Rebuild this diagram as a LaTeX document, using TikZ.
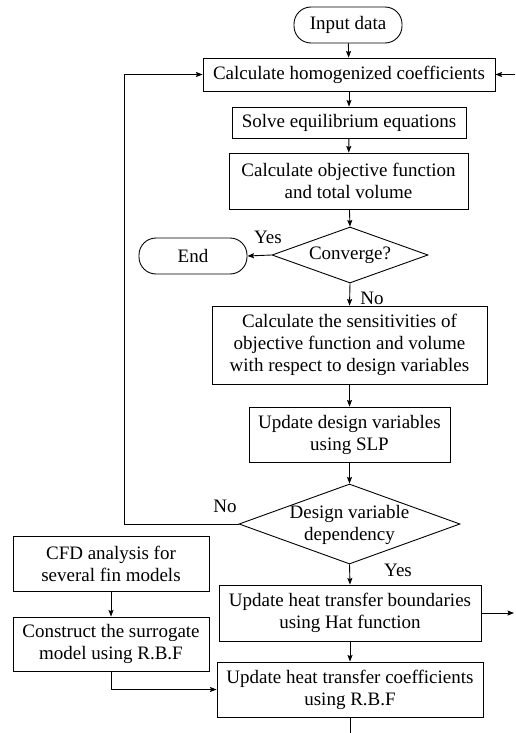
\documentclass[tikz,border=0pt]{standalone}
\usepackage{fontspec}
\setmainfont{Liberation Serif}
\usetikzlibrary{arrows.meta,shapes.geometric}

\begin{document}
\begin{tikzpicture}[x=1pt,y=-1pt,
  every node/.style={font=\fontsize{19}{22}\selectfont},
  line/.style={line width=0.9pt},
  arr/.style={line width=0.9pt,-{Stealth[length=6.5pt,width=5pt,inset=1pt]}},
  box/.style={draw,line width=0.9pt,rectangle,align=center,inner sep=0pt},
  term/.style={draw,line width=0.9pt,rectangle,rounded corners=17pt,inner sep=0pt},
  decision/.style={draw,line width=0.9pt,diamond,inner sep=0pt},
  lbl/.style={inner sep=0pt}]

\useasboundingbox (0,0) rectangle (515,733);

% main column
\node[term, minimum width=108, minimum height=36] (input) at (348,25) {Input data};
\node[box, minimum width=292, minimum height=33] (homog) at (349,74.5) {Calculate homogenized coefficients};
\node[box, minimum width=234, minimum height=31] (solve) at (349,122.5) {Solve equilibrium equations};
\node[box, minimum width=239, minimum height=56] (obj) at (348.5,181) {Calculate objective function\\and total volume};
\node[decision, minimum width=156, minimum height=56] (conv) at (350,255) {};
\node[lbl] at (conv) {Converge?};
\node[term, minimum width=108, minimum height=36] (end) at (193,256) {End};
\node[box, minimum width=275, minimum height=78] (sens) at (349.5,345) {Calculate the sensitivities of\\objective function and volume\\with respect to design variables};
\node[box, minimum width=201, minimum height=55] (slp) at (349.5,434.5) {Update design variables\\using SLP};
\node[decision, minimum width=221, minimum height=80] (dv) at (349.5,524) {};
\node[lbl, align=center] at (349.5,525) {Design variable\\dependency};
\node[box, minimum width=262, minimum height=56] (hb) at (350,613) {Update heat transfer boundaries\\using Hat function};
\node[box, minimum width=266, minimum height=55] (hc) at (350,689.5) {Update heat transfer coefficients\\using R.B.F};

% surrogate branch
\node[box, minimum width=196, minimum height=55] (cfd) at (111,563.5) {CFD analysis for\\several fin models};
\node[box, minimum width=196, minimum height=54] (constr) at (111,644) {Construct the surrogate\\model using R.B.F};

% free ends
\coordinate (inR) at (515,74.5);
\coordinate (outR) at (514,613);
\coordinate (outB) at (350,733);
\coordinate (loopL) at (124,524);
\coordinate (loopT) at (124,74.5);

% connectors
\draw[arr] (input) -- (homog);
\draw[arr] (homog) -- (solve);
\draw[arr] (solve) -- (obj);
\draw[arr] (obj) -- (conv.north);
\draw[arr] (conv.west) -- (end.east);
\draw[arr] (conv.south) -- (sens.north);
\draw[arr] (sens) -- (slp);
\draw[arr] (slp) -- (dv.north);
\draw[arr] (dv.west) -- (loopL) -- (loopT) -- (homog.west);
\draw[arr] (dv.south) -- (hb.north);
\draw[arr] (hb) -- (hc);
\draw[arr] (hb.east) -- (outR);
\draw[arr] (inR) -- (homog.east);
\draw[line] (hc.south) -- (outB);
\draw[arr] (cfd) -- (constr);
\draw[arr] (constr.south) |- (hc.west);

% branch labels
\node[lbl] at (268,237) {Yes};
\node[lbl] at (372,298) {No};
\node[lbl] at (225,506) {No};
\node[lbl] at (398,570) {Yes};
\end{tikzpicture}
\end{document}
